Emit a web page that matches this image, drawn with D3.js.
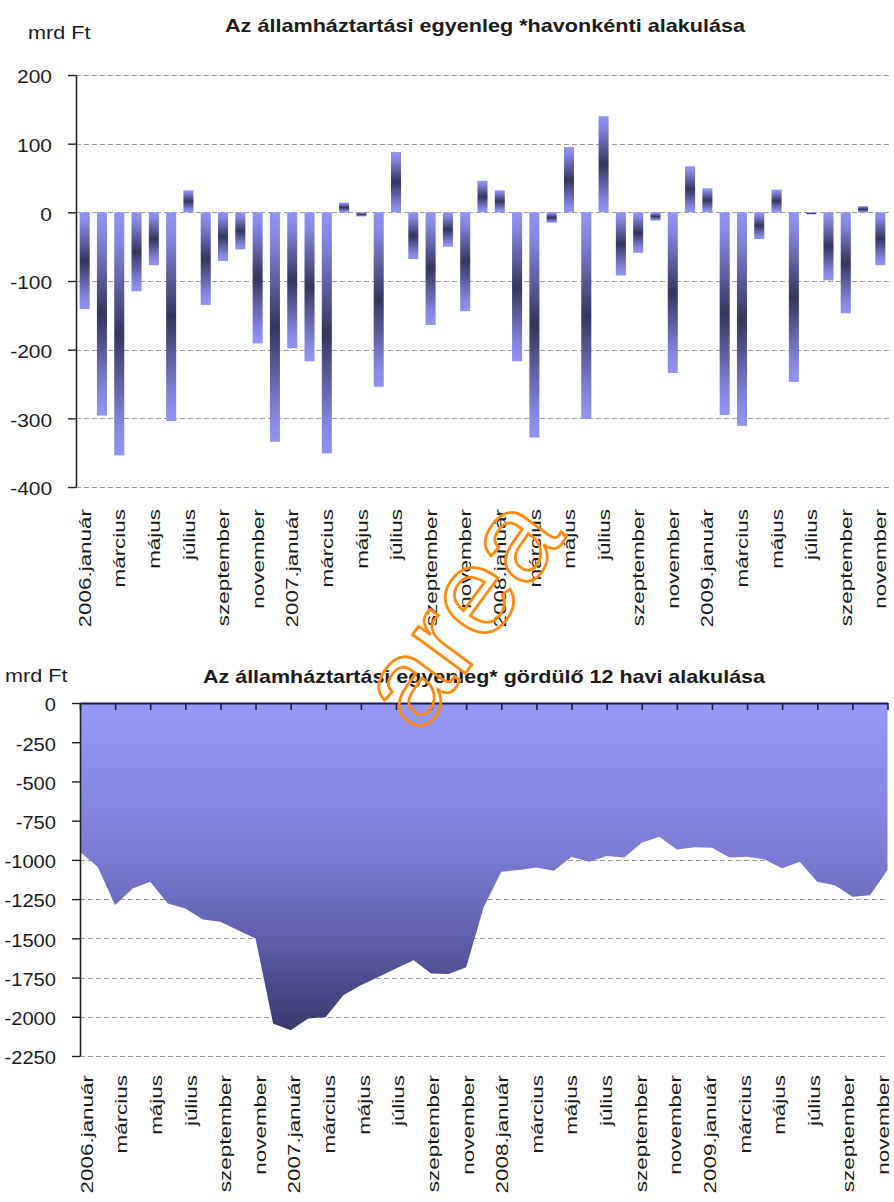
<!DOCTYPE html>
<html>
<head>
<meta charset="utf-8">
<script src="https://cdn.jsdelivr.net/npm/d3@7"></script>
<style>
  body { margin: 0; background: #fff; }
  svg { display: block; }
</style>
</head>
<body>
<svg id="chart" width="894" height="1202"></svg>
<script>
// ---- data -------------------------------------------------------------
const years = ["2006", "2007", "2008", "2009"];
const monthNames = ["január", "február", "március", "április", "május", "június",
                    "július", "augusztus", "szeptember", "október", "november", "december"];

// monthly balance, mrd Ft (2006 január – 2009 november)
const monthlyBalance = [
  -141, -296, -354, -115,  -77, -304,   32, -135,  -71,  -54, -191, -334,
  -198, -217, -351,   14,   -6, -254,   88,  -68, -164,  -50, -144,   46,
    32, -217, -328,  -15,   95, -301,  140,  -92,  -59,  -12, -234,   67,
    35, -295, -311,  -39,   33, -247,   -3,  -99, -147,    9,  -77
];

// rolling 12-month balance, mrd Ft
const rolling12 = [
   -948, -1044, -1288, -1182, -1140, -1278, -1310, -1380, -1395, -1448, -1501, -2043,
  -2086, -2011, -2001, -1862, -1799, -1746, -1692, -1639, -1724, -1728, -1684, -1300,
  -1075, -1065, -1048, -1069,  -980, -1012,  -976,  -984,  -891,  -853,  -933,  -920,
   -923,  -984,  -980,  -997, -1054, -1012, -1140, -1161, -1235, -1225, -1065
];

const topTicks = [200, 100, 0, -100, -200, -300, -400];
const bottomTicks = [0, -250, -500, -750, -1000, -1250, -1500, -1750, -2000, -2250];

const unitLabel = "mrd Ft";
const topTitle = "Az államháztartási egyenleg *havonkénti alakulása";
const bottomTitle = "Az államháztartási egyenleg* gördülő 12 havi alakulása";
const watermark = "area";

// category labels: first month of a year carries the year
const categories = monthlyBalance.map((_, i) => {
  const y = Math.floor(i / 12), m = i % 12;
  return m === 0 ? years[y] + "." + monthNames[m] : monthNames[m];
});
const idx = d3.range(categories.length);
const labelIdx = idx.filter(i => i % 2 === 0);

// plain integer labels with an ASCII hyphen for negatives
const plainNumber = d => String(d);

// ---- setup -------------------------------------------------------------
const FONT = '"Liberation Sans", Arial, Helvetica, sans-serif';
const INK = "#1b1b1b";
const svg = d3.select("#chart");
const defs = svg.append("defs");

const barGrad = defs.append("linearGradient")
  .attr("id", "barGrad").attr("x1", 0).attr("y1", 0).attr("x2", 0).attr("y2", 1);
[[0, "#9393f4"], [0.12, "#8585e0"], [0.5, "#35355f"], [0.88, "#8585e0"], [1, "#9393f4"]]
  .forEach(([o, c]) => barGrad.append("stop").attr("offset", o).attr("stop-color", c));

const areaGrad = defs.append("linearGradient")
  .attr("id", "areaGrad").attr("x1", 0).attr("y1", 0).attr("x2", 0).attr("y2", 1);
[[0, "#9898f8"], [0.45, "#7d7dd8"], [0.75, "#5b5ba6"], [1, "#38386c"]]
  .forEach(([o, c]) => areaGrad.append("stop").attr("offset", o).attr("stop-color", c));

function styleYAxis(g, pad, fs, sx) {
  g.select(".domain").attr("stroke", "#222").attr("stroke-width", 1.6);
  g.selectAll(".tick line").attr("stroke", "#222").attr("stroke-width", 1.4);
  g.selectAll(".tick text")
    .attr("x", 0).attr("dy", "0.36em")
    .attr("text-anchor", "end")
    .attr("transform", `translate(${-pad},1) scale(${sx},1)`)
    .style("font-family", FONT).style("font-size", fs + "px").attr("fill", INK);
}

function styleXLabels(g, off, fs, sx) {
  g.select(".domain").remove();
  g.selectAll(".tick line").remove();
  g.selectAll(".tick text")
    .attr("x", 0).attr("y", 0).attr("dy", "0.36em")
    .attr("text-anchor", "end")
    .attr("transform", `translate(0,${off}) rotate(-90) scale(${sx},1)`)
    .style("font-family", FONT).style("font-size", fs + "px").attr("fill", INK);
}

function gridLines(g, ticks, y, x0, x1) {
  g.selectAll("line").data(ticks).join("line")
    .attr("x1", x0).attr("x2", x1)
    .attr("y1", d => Math.round(y(d)) + 0.5).attr("y2", d => Math.round(y(d)) + 0.5)
    .attr("stroke", "#9c9c9c").attr("stroke-width", 1)
    .attr("stroke-dasharray", "5,3");
}

function stretchedText(x, y, txt, fs, sx, weight) {
  svg.append("text")
    .attr("transform", `translate(${x},${y}) scale(${sx},1)`)
    .style("font-family", FONT).style("font-size", fs + "px")
    .style("font-weight", weight || "normal")
    .attr("fill", INK).text(txt);
}

// ---- top chart: monthly bars ------------------------------------------
const T = { left: 76, right: 889, top: 75, bottom: 487 };
const xTop = d3.scaleBand().domain(idx).range([T.left, T.right]).paddingInner(0.42).paddingOuter(0.21);
const yTop = d3.scaleLinear().domain([-400, 200]).range([T.bottom, T.top]);

gridLines(svg.append("g"), topTicks, yTop, T.left, T.right);

svg.append("g").selectAll("rect").data(idx).join("rect")
  .attr("x", i => xTop(i))
  .attr("width", xTop.bandwidth())
  .attr("y", i => yTop(Math.max(0, monthlyBalance[i])))
  .attr("height", i => Math.abs(yTop(monthlyBalance[i]) - yTop(0)))
  .attr("fill", "url(#barGrad)");

svg.append("g").attr("transform", `translate(${T.left},0)`)
  .call(d3.axisLeft(yTop).tickValues(topTicks).tickFormat(plainNumber).tickSize(8).tickSizeOuter(0))
  .call(g => styleYAxis(g, 24, 19, 1.1));

svg.append("g").attr("transform", `translate(0,${T.bottom})`)
  .call(d3.axisBottom(xTop).tickValues(labelIdx).tickFormat(i => categories[i]))
  .call(g => styleXLabels(g, 22, 17, 1.32));

stretchedText(28, 39, unitLabel, 18, 1.2);
svg.append("text").attr("x", 225).attr("y", 32)
  .attr("textLength", 520).attr("lengthAdjust", "spacingAndGlyphs")
  .style("font-family", FONT).style("font-size", "19px").style("font-weight", "bold")
  .attr("fill", INK).text(topTitle);

// ---- bottom chart: rolling 12-month area --------------------------------
const B = { left: 80, right: 887.5, top: 703, bottom: 1056 };
const xBot = d3.scalePoint().domain(idx).range([B.left, B.right]);
// category text sits slightly inside the plot ends
const xBotLabel = d3.scalePoint().domain(idx).range([B.left + 6, B.right - 5]);
const yBot = d3.scaleLinear().domain([-2250, 0]).range([B.bottom, B.top]);

gridLines(svg.append("g"), bottomTicks.filter(d => d !== 0), yBot, B.left, B.right);

svg.append("path").datum(idx)
  .attr("d", d3.area().x(i => xBot(i)).y0(yBot(0)).y1(i => yBot(rolling12[i])))
  .attr("fill", "url(#areaGrad)");

svg.append("g").attr("transform", `translate(0,${B.top})`)
  .call(d3.axisBottom(xBot).tickValues(labelIdx).tickFormat("").tickSize(7).tickSizeOuter(0))
  .call(g => {
    g.select(".domain").attr("stroke", "#1c1c4e").attr("stroke-width", 2);
    g.selectAll(".tick line").attr("stroke", "#1c1c4e").attr("stroke-width", 1.6);
  });

svg.append("g").attr("transform", `translate(${B.left},0)`)
  .call(d3.axisLeft(yBot).tickValues(bottomTicks).tickFormat(plainNumber).tickSize(8).tickSizeOuter(0))
  .call(g => styleYAxis(g, 24, 19, 1.06));

svg.append("g").attr("transform", `translate(0,${B.bottom})`)
  .call(d3.axisBottom(xBotLabel).tickValues(labelIdx).tickFormat(i => categories[i]))
  .call(g => styleXLabels(g, 19, 17, 1.32));

stretchedText(5, 682, unitLabel, 18, 1.2);
svg.append("text").attr("x", 203).attr("y", 683)
  .attr("textLength", 562).attr("lengthAdjust", "spacingAndGlyphs")
  .style("font-family", FONT).style("font-size", "19px").style("font-weight", "bold")
  .attr("fill", INK).text(bottomTitle);

// ---- outlined watermark -------------------------------------------------
svg.append("text")
  .attr("transform", "translate(493,636) rotate(-53.6)")
  .attr("text-anchor", "middle")
  .style("font-family", FONT).style("font-size", "124px")
  .attr("fill", "none").attr("stroke", "#ff8a10").attr("stroke-width", 2.8)
  .text(watermark);
</script>
</body>
</html>
